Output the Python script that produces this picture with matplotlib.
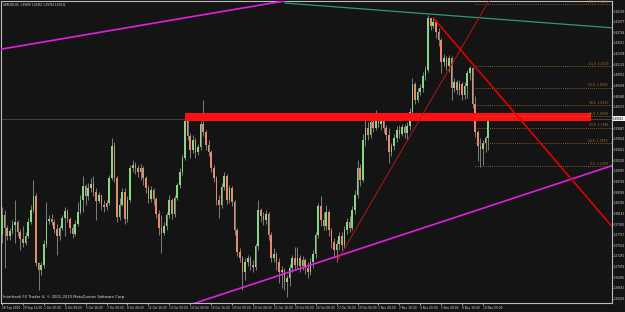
import numpy as np
import matplotlib
matplotlib.use("Agg")
import matplotlib.pyplot as plt
from matplotlib.patches import Rectangle

# ---------------- data (GBPUSD H4) ----------------
first_open = 1.5771
closes = [1.5811,1.5785,1.5769,1.5779,1.5791,1.5797,1.5777,1.5763,1.5755,1.5769,
          1.5797,1.5821,1.5849,1.5715,1.5701,1.5711,1.5753,1.5799,1.5803,1.5797,
          1.5783,1.5769,1.5785,1.5805,1.5819,1.5803,1.5785,1.5773,1.5793,1.5817,
          1.5841,1.5869,1.5849,1.5865,1.5873,1.5857,1.5839,1.5851,1.5831,1.5827,
          1.5835,1.5885,1.5949,1.5885,1.5807,1.5831,1.5857,1.5803,1.5841,1.5905,
          1.5911,1.5905,1.5897,1.5905,1.5885,1.5865,1.5843,1.5861,1.5843,1.5813,
          1.5785,1.5775,1.5789,1.5811,1.5841,1.5813,1.5845,1.5871,1.5897,1.5925,
          1.5999,1.5969,1.5941,1.5961,1.5937,1.5947,1.5993,1.5977,1.5951,1.5937,
          1.5905,1.5885,1.5841,1.5831,1.5867,1.5889,1.5841,1.5865,1.5837,1.5781,
          1.5737,1.5725,1.5697,1.5717,1.5725,1.5711,1.5707,1.5749,1.5821,1.5809,
          1.5801,1.5813,1.5771,1.5725,1.5733,1.5717,1.5697,1.5701,1.5677,1.5685,
          1.5705,1.5725,1.5711,1.5725,1.5709,1.5721,1.5705,1.5697,1.5717,1.5733,
          1.5771,1.5829,1.5801,1.5789,1.5817,1.5781,1.5757,1.5741,1.5753,1.5769,
          1.5751,1.5781,1.5797,1.5785,1.5821,1.5851,1.5905,1.5881,1.5961,1.5985,
          1.5971,1.5997,1.5985,1.6005,1.5993,1.6001,1.5985,1.5971,1.5937,1.5949,
          1.5965,1.5981,1.5973,1.5987,1.5975,1.5989,1.6017,1.6073,1.6041,1.6057,
          1.6065,1.6089,1.6101,1.6205,1.6189,1.6197,1.6177,1.6161,1.6117,1.6125,
          1.6109,1.6125,1.6065,1.6077,1.6061,1.6073,1.6051,1.6069,1.6095,1.6105,
          1.6033,1.5977,1.5949,1.5943,1.5955,1.5965,1.6003]
highs = [1.5827,1.5821,1.5791,1.5785,1.5801,1.5841,1.5801,1.5783,1.5789,1.5777,
         1.5805,1.5831,1.5881,1.5855,1.5717,1.5717,1.5761,1.5837,1.5811,1.5813,
         1.5803,1.5793,1.5791,1.5811,1.5827,1.5823,1.5807,1.5793,1.5801,1.5837,
         1.5851,1.5889,1.5873,1.5875,1.5885,1.5889,1.5865,1.5857,1.5851,1.5841,
         1.5841,1.5891,1.5965,1.5957,1.5889,1.5845,1.5865,1.5865,1.5849,1.5911,
         1.5921,1.5917,1.5911,1.5913,1.5909,1.5889,1.5871,1.5869,1.5865,1.5847,
         1.5821,1.5811,1.5797,1.5817,1.5851,1.5845,1.5851,1.5875,1.5905,1.5931,
         1.6005,1.6003,1.5975,1.5971,1.5965,1.5953,1.5999,1.6041,1.5981,1.5961,
         1.5941,1.5911,1.5889,1.5851,1.5875,1.5897,1.5893,1.5871,1.5869,1.5841,
         1.5785,1.5745,1.5729,1.5725,1.5731,1.5729,1.5721,1.5755,1.5841,1.5825,
         1.5817,1.5821,1.5817,1.5777,1.5745,1.5737,1.5725,1.5709,1.5705,1.5691,
         1.5713,1.5731,1.5747,1.5747,1.5731,1.5729,1.5725,1.5717,1.5725,1.5741,
         1.5777,1.5835,1.5849,1.5817,1.5831,1.5821,1.5785,1.5765,1.5761,1.5777,
         1.5777,1.5789,1.5805,1.5809,1.5829,1.5861,1.5921,1.5913,1.5973,1.6001,
         1.5997,1.6009,1.6013,1.6021,1.6013,1.6009,1.6005,1.5991,1.5985,1.5955,
         1.5973,1.5989,1.5991,1.5993,1.5993,1.5997,1.6025,1.6085,1.6077,1.6065,
         1.6073,1.6097,1.6109,1.6211,1.6205,1.6207,1.6201,1.6185,1.6165,1.6133,
         1.6129,1.6131,1.6129,1.6085,1.6081,1.6081,1.6077,1.6077,1.6101,1.6109,
         1.6107,1.6049,1.5981,1.5965,1.5961,1.5969,1.6007]
lows = [1.5755,1.5705,1.5761,1.5761,1.5773,1.5755,1.5769,1.5741,1.5747,1.5751,
        1.5765,1.5793,1.5817,1.5709,1.5661,1.5691,1.5705,1.5747,1.5793,1.5791,
        1.5775,1.5731,1.5761,1.5781,1.5769,1.5797,1.5775,1.5765,1.5769,1.5789,
        1.5813,1.5817,1.5831,1.5841,1.5857,1.5849,1.5801,1.5835,1.5821,1.5817,
        1.5821,1.5831,1.5881,1.5877,1.5797,1.5801,1.5829,1.5793,1.5797,1.5837,
        1.5897,1.5893,1.5887,1.5881,1.5871,1.5855,1.5835,1.5837,1.5831,1.5805,
        1.5771,1.5735,1.5771,1.5781,1.5805,1.5803,1.5807,1.5841,1.5865,1.5891,
        1.5921,1.5961,1.5925,1.5935,1.5925,1.5931,1.5941,1.5969,1.5941,1.5929,
        1.5897,1.5877,1.5831,1.5805,1.5825,1.5861,1.5833,1.5835,1.5829,1.5771,
        1.5729,1.5717,1.5661,1.5681,1.5709,1.5701,1.5697,1.5701,1.5741,1.5797,
        1.5791,1.5793,1.5761,1.5717,1.5717,1.5701,1.5675,1.5665,1.5661,1.5647,
        1.5669,1.5697,1.5701,1.5705,1.5697,1.5701,1.5693,1.5685,1.5691,1.5705,
        1.5725,1.5765,1.5789,1.5781,1.5781,1.5769,1.5745,1.5725,1.5717,1.5741,
        1.5741,1.5745,1.5773,1.5777,1.5781,1.5813,1.5845,1.5869,1.5877,1.5949,
        1.5961,1.5965,1.5977,1.5981,1.5985,1.5981,1.5975,1.5961,1.5915,1.5929,
        1.5941,1.5957,1.5965,1.5969,1.5965,1.5961,1.5981,1.6011,1.6033,1.6037,
        1.6051,1.6057,1.6081,1.6097,1.6181,1.6185,1.6165,1.6149,1.6095,1.6109,
        1.6101,1.6097,1.6041,1.6057,1.6053,1.6051,1.6041,1.6043,1.6045,1.6081,
        1.6025,1.5967,1.5919,1.5907,1.5911,1.5937,1.5941]

x_tick_labels = ["28 Sep 2010", "29 Sep 16:00", "1 Oct 00:00", "4 Oct 08:00", "5 Oct 16:00",
                 "7 Oct 00:00", "8 Oct 08:00", "11 Oct 16:00", "13 Oct 00:00", "14 Oct 08:00",
                 "15 Oct 16:00", "19 Oct 00:00", "20 Oct 08:00", "21 Oct 16:00", "25 Oct 00:00",
                 "26 Oct 08:00", "27 Oct 16:00", "29 Oct 00:00", "1 Nov 08:00", "2 Nov 16:00",
                 "4 Nov 00:00", "5 Nov 08:00", "8 Nov 16:00", "10 Nov 00:00"]
x_tick_bars = [0, 8, 16, 24, 32, 40, 48, 56, 64, 72, 80, 88, 96, 104, 112, 120,
               128, 136, 144, 152, 160, 168, 176, 184]

price_ticks = [1.62190, 1.61977, 1.61764, 1.61551, 1.61338, 1.61125, 1.60912, 1.60699,
               1.60486, 1.60273, 1.60060, 1.59847, 1.59634, 1.59421, 1.59208, 1.58995,
               1.58782, 1.58569, 1.58356, 1.58143, 1.57930, 1.57717, 1.57504, 1.57291,
               1.57078, 1.56865, 1.56652, 1.56439]

bid_price = 1.60032
title_text = "GBPUSD,H4  1.59870 1.60062 1.59754 1.60032"
copyright_text = "Interbank FX Trader 4, \u00a9 2001-2010 MetaQuotes Software Corp."

# drawn objects (bar index, price)
upper_magenta = [(0, 1.6143), (100, 1.6232)]
lower_magenta = [(92, 1.5666), (186, 1.5828)]
green_line = [(108, 1.6235), (214, 1.6193)]
red_trend = [(165, 1.6205), (225, 1.5839)]
thin_red = [(128, 1.5717), (186, 1.6237)]
red_zone = (70, 225.3, 1.5999, 1.6015)
fib_start = 181
fib_levels = [1.6233, 1.6109, 1.6065, 1.6031, 1.6009, 1.5985, 1.5955, 1.5909]
fib_names = ["100.0", "61.8", "50.0", "38.2", "30.9", "23.6", "14.6", "0.0"]

# ---------------- figure ----------------
BG = "#141414"
W, H = 625, 312
fig = plt.figure(figsize=(W / 100, H / 100), dpi=100, facecolor=BG)
ax = fig.add_axes([1 / W, 9 / H, 611 / W, 302 / H], facecolor=BG)

n = len(closes)
xs = np.arange(n)
c = np.array(closes)
o = np.concatenate([[first_open], c[:-1]])
h = np.maximum(np.array(highs), np.maximum(o, c))
l = np.minimum(np.array(lows), np.minimum(o, c))

px_per_bar = 2.614
ax.set_xlim(-1 / px_per_bar, 611 / px_per_bar - 1 / px_per_bar)
ax.set_ylim(1.5635, 1.6239)

# objects behind candles
ax.axhline(bid_price, color="#4a4a4a", lw=0.6, zorder=1)

ax.vlines(xs, l, h, color="#8e8e8e", lw=0.6, zorder=2)
up = c >= o
body_b = np.minimum(o, c)
body_h = np.maximum(np.abs(c - o), 0.00008)
ax.bar(xs[up], body_h[up], bottom=body_b[up], width=0.62, color="#86d686", lw=0, zorder=3)
ax.bar(xs[~up], body_h[~up], bottom=body_b[~up], width=0.62, color="#e58c6c", lw=0, zorder=3)

# red zone
x0, x1, y0, y1 = red_zone
ax.add_patch(Rectangle((x0, y0), x1 - x0, y1 - y0, color="#ff1010", lw=0, zorder=4))

# fib levels
xmax = ax.get_xlim()[1]
for lev, name in zip(fib_levels, fib_names):
    ax.plot([fib_start, xmax], [lev, lev], color="#b0702a", lw=0.6,
            ls=(0, (1, 1.5)), zorder=4)
    ax.text(xmax - 1.5, lev + 0.0001, f"{name}  {lev:.4f}", color="#b0702a", fontsize=2.2,
            ha="right", va="bottom", zorder=5)

def ray(points, start_at_first, color, lw):
    (xa, ya), (xb, yb) = points
    slope = (yb - ya) / (xb - xa)
    x_start = xa if start_at_first else -5
    x_end = 260
    ax.plot([x_start, x_end], [ya + slope * (x_start - xa), ya + slope * (x_end - xa)],
            color=color, lw=lw, zorder=5, solid_capstyle="butt")

ray(upper_magenta, False, "#e020e0", 1.2)
ray(lower_magenta, False, "#e020e0", 1.2)
ray(green_line, True, "#2e9c6a", 0.9)
ray(red_trend, True, "#e00000", 1.2)
ray(thin_red, True, "#b01818", 0.7)

# axes styling
for s in ax.spines.values():
    s.set_color("#bdbdbd")
    s.set_linewidth(0.8)
ax.yaxis.tick_right()
ax.set_yticks(price_ticks)
ax.set_yticklabels([f"{p:.5f}" for p in price_ticks])
ax.set_xticks(x_tick_bars)
ax.set_xticklabels(x_tick_labels, ha="left")
ax.tick_params(axis="y", colors="#d8d8d8", labelsize=2.0, length=1.0, width=0.5, pad=0.3)
ax.tick_params(axis="x", colors="#d8d8d8", labelsize=2.1, length=1.5, width=0.5, pad=0.8)

# current price label
ax.text(1.0 + 1.2 / 611, bid_price, f"{bid_price:.5f}", transform=ax.get_yaxis_transform(),
        fontsize=2.0, color="#000000", va="center", ha="left",
        bbox=dict(boxstyle="square,pad=0.2", fc="#f0f0f0", ec="none"), zorder=10, clip_on=False)

ax.text(0.004, 0.995, title_text, transform=ax.transAxes, fontsize=1.9, color="#e0e0e0",
        va="top", ha="left")
ax.text(0.004, 0.012, copyright_text, transform=ax.transAxes, fontsize=2.7, color="#e0e0e0",
        va="bottom", ha="left")

fig.savefig("out.png", dpi=100, facecolor=BG)
